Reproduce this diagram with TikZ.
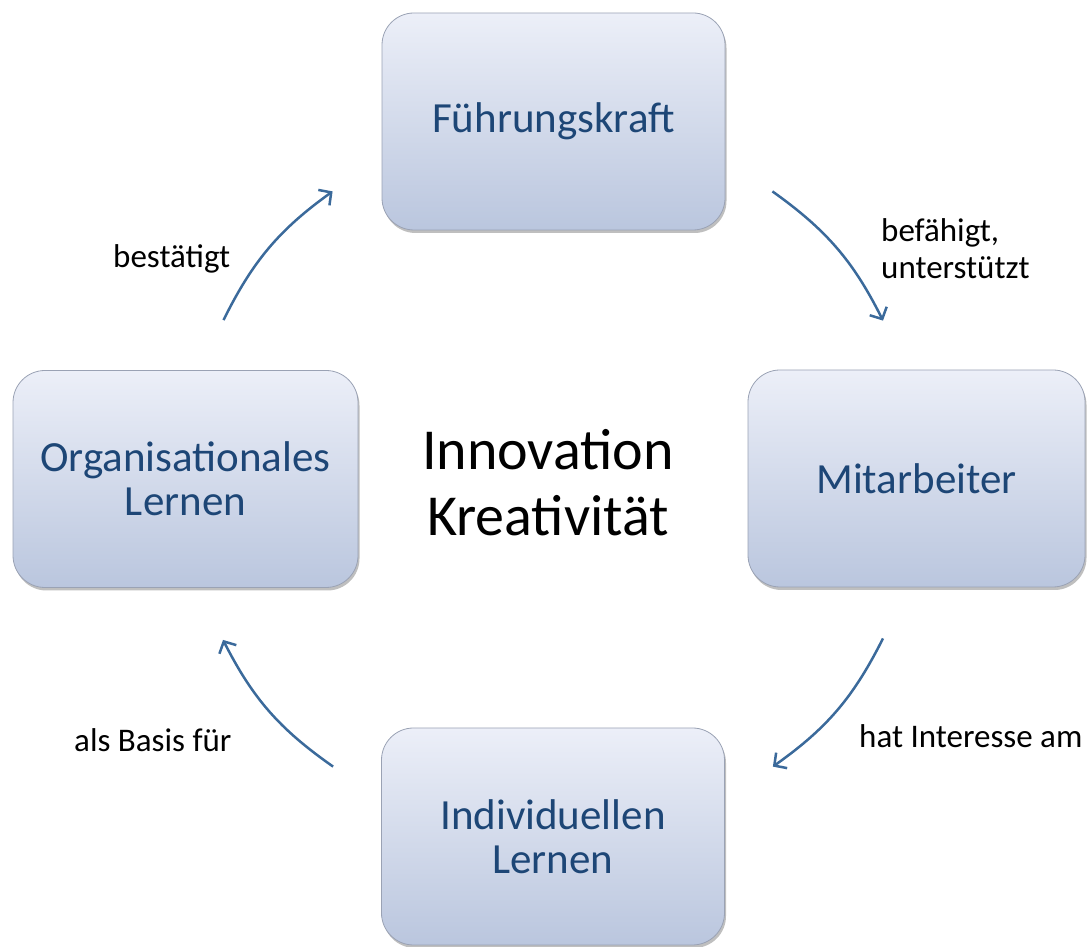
\documentclass[tikz,border=0pt]{standalone}
\usepackage{fontspec}
\setmainfont{Carlito}
\usepackage{tikz}
\usetikzlibrary{arrows.meta,positioning,calc,shadows}
\definecolor{boxtop}{HTML}{ECEFF8}
\definecolor{boxbot}{HTML}{BAC6DE}
\definecolor{boxline}{HTML}{9AA2B4}
\definecolor{boxtext}{HTML}{1D4676}
\definecolor{arrowblue}{HTML}{3B6A9B}
\tikzset{
  x=1pt,y=1pt,
  rolebox/.style={rounded corners=32pt,draw=boxline,line width=0.8pt,
    top color=boxtop,bottom color=boxbot,text=boxtext,align=center,
    minimum width=343pt,minimum height=217pt,
    font=\fontsize{43}{44}\selectfont,
    drop shadow={shadow xshift=1.5pt,shadow yshift=-3pt,opacity=0.25,fill=black}},
  cyclearrow/.style={-{Straight Barb[length=9pt,width=19pt,line width=2.5pt]},
    line width=2.5pt,draw=arrowblue},
  lbl/.style={font=\fontsize{33}{37}\selectfont,align=left,inner sep=0pt}
}
\begin{document}
\begin{tikzpicture}
  \useasboundingbox (0,0) rectangle (1087,947);
  % the four stations of the cycle
  \node[rolebox] (fuehrung) at (553.5,825.5) {Führungskraft};
  \node[rolebox,minimum width=337pt] (mitarb) at (916.5,468.5) {Mitarbeiter};
  \node[rolebox,minimum width=345pt] (orglern) at (185.5,468) {Organisationales\\Lernen};
  \node[rolebox] (indlern) at (553,110.5) {Individuellen\\Lernen};
  \node[font=\fontsize{58}{66}\selectfont,align=center] (mitte) at (548,464) {Innovation\\Kreativität};
  % curved arrows between the boxes
  \draw[cyclearrow] ($(orglern.north)+(38,50)$) to[bend left=14] ($(fuehrung.south west)+(-49,39)$);
  \draw[cyclearrow] ($(fuehrung.south east)+(47,39)$) to[bend left=14] ($(mitarb.north)+(-33.5,49)$);
  \draw[cyclearrow] ($(mitarb.south)+(-33.5,-51)$) to[bend left=14] ($(indlern.north east)+(48,-39)$);
  \draw[cyclearrow] ($(indlern.north west)+(-48,-39)$) to[bend left=14] ($(orglern.south)+(37.5,-52)$);
  % labels
  \node[lbl,anchor=base west] (bestaetigt) at (113,679) {bestätigt};
  \node[lbl,anchor=north west] (befaehigt) at (881,729) {befähigt,\\unterstützt};
  \node[lbl,anchor=base west] (interesse) at (859,199) {hat Interesse am};
  \node[lbl,anchor=base west] (basis) at (74,195) {als Basis für};
\end{tikzpicture}
\end{document}
